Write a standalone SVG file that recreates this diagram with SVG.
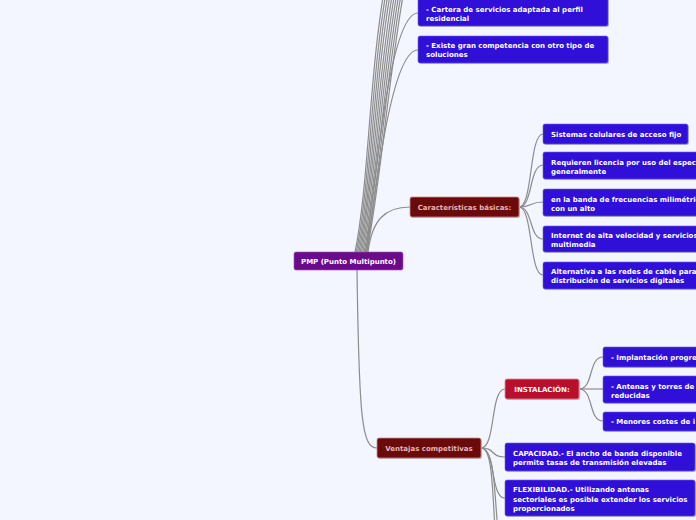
<svg xmlns="http://www.w3.org/2000/svg" width="696" height="520" viewBox="0 0 696 520">
<style>
.bg{fill:#f3f5ff}
.c{fill:none;stroke:#8c8c8c;stroke-width:1.2}
.sh{fill:#b9b9c4}
.leaf{fill:#3010d8;stroke:#6e5ee6;stroke-width:0.6}
.t{font-family:"DejaVu Sans",Verdana,sans-serif;font-weight:bold;font-size:7px;fill:#ffffff}
.tp{font-family:"DejaVu Sans",Verdana,sans-serif;font-weight:bold;font-size:7px;fill:#e6b3b3}
.root{fill:#6c0a8c;stroke:#9a50b4;stroke-width:0.6}
.dark{fill:#6b0a0a;stroke:#c98a8a;stroke-width:0.8}
.ins{fill:#b8102c;stroke:#e08a98;stroke-width:0.8}
</style>
<rect class="bg" x="0" y="0" width="696" height="520"/>
<g id="connectors">
<path class="c" d="M355 252 C369 185 369 70 386 -20"/>
<path class="c" d="M356.3 252 C370.3 185 371.2 70 388.2 -20"/>
<path class="c" d="M357.6 252 C371.6 185 373.4 70 390.4 -20"/>
<path class="c" d="M358.9 252 C372.9 185 375.6 70 392.6 -20"/>
<path class="c" d="M360.2 252 C374.2 185 377.8 70 394.8 -20"/>
<path class="c" d="M361.5 252 C375.5 185 380 70 397 -20"/>
<path class="c" d="M362.8 252 C376.8 185 382.2 70 399.2 -20"/>
<path class="c" d="M364.1 252 C378.1 185 384.4 70 401.4 -20"/>
<path class="c" d="M365.4 252 C379.4 185 386.6 70 403.6 -20"/>
<path class="c" d="M366.7 252 C380.7 185 388.8 70 405.8 -20"/>
<path class="c" d="M366 252 C378 150 392 13 418 13"/>
<path class="c" d="M367 252 C379 160 394 50 418 50"/>
<path class="c" d="M368 252 C372 220 385 207 410 207"/>
<path class="c" d="M357 269 C359 420 362 448 377 448"/>
<path class="c" d="M519 207 C533 207 529 134 543 134"/>
<path class="c" d="M519 207 C533 207 529 165 543 165"/>
<path class="c" d="M519 207 C533 207 529 202 543 202"/>
<path class="c" d="M519 207 C533 207 529 239 543 239"/>
<path class="c" d="M519 207 C533 207 529 275 543 275"/>
<path class="c" d="M481 448 C496 448 490 389 505 389"/>
<path class="c" d="M481 448 C496 448 490 457 505 457"/>
<path class="c" d="M481 448 C496 448 490 498 505 498"/>
<path class="c" d="M481 448 C494 448 492 500 496 540"/>
<path class="c" d="M481 448 C496 448 494 500 499 540"/>
<path class="c" d="M579 389 C594 389 588 357 603 357"/>
<path class="c" d="M579 389 C594 389 588 389 603 389"/>
<path class="c" d="M579 389 C594 389 588 421 603 421"/>
</g>
<g id="n-cartera">
<rect class="sh" x="419" y="-2" width="190" height="29" rx="2"/>
<rect class="leaf" x="418" y="-3" width="190" height="29" rx="2"/>
<text class="t" x="426" y="12">- Cartera de servicios adaptada al perfil</text>
<text class="t" x="426" y="21">residencial</text>
</g>
<g id="n-competencia">
<rect class="sh" x="419" y="37" width="190" height="27" rx="2"/>
<rect class="leaf" x="418" y="36" width="190" height="27" rx="2"/>
<text class="t" x="426" y="48">- Existe gran competencia con otro tipo de</text>
<text class="t" x="426" y="57">soluciones</text>
</g>
<g id="n-root">
<rect class="root" x="294" y="252" width="109" height="18" rx="2"/>
<text class="t" x="348.5" y="263.5" text-anchor="middle">PMP (Punto Multipunto)</text>
</g>
<g id="n-caracteristicas">
<rect class="sh" x="411" y="198" width="109" height="20" rx="2"/>
<rect class="dark" x="410" y="197" width="109" height="20" rx="2"/>
<text class="tp" x="464.5" y="209.5" text-anchor="middle">Características básicas:</text>
</g>
<g id="n-sistemas">
<rect class="sh" x="544" y="125" width="145" height="20" rx="2"/>
<rect class="leaf" x="543" y="124" width="145" height="20" rx="2"/>
<text class="t" x="551" y="136.5">Sistemas celulares de acceso fijo</text>
</g>
<g id="n-licencia">
<rect class="sh" x="544" y="153" width="170" height="27" rx="2"/>
<rect class="leaf" x="543" y="152" width="170" height="27" rx="2"/>
<text class="t" x="551" y="164.5">Requieren licencia por uso del espect</text>
<text class="t" x="551" y="173.5">generalmente</text>
</g>
<g id="n-banda">
<rect class="sh" x="544" y="190" width="170" height="27" rx="2"/>
<rect class="leaf" x="543" y="189" width="170" height="27" rx="2"/>
<text class="t" x="551" y="201.5">en la banda de frecuencias milimétric</text>
<text class="t" x="551" y="210.5">con un alto</text>
</g>
<g id="n-internet">
<rect class="sh" x="544" y="227" width="170" height="26" rx="2"/>
<rect class="leaf" x="543" y="226" width="170" height="26" rx="2"/>
<text class="t" x="551" y="238">Internet de alta velocidad y servicios</text>
<text class="t" x="551" y="247">multimedia</text>
</g>
<g id="n-alternativa">
<rect class="sh" x="544" y="263" width="170" height="27" rx="2"/>
<rect class="leaf" x="543" y="262" width="170" height="27" rx="2"/>
<text class="t" x="551" y="274">Alternativa a las redes de cable para</text>
<text class="t" x="551" y="283">distribución de servicios digitales</text>
</g>
<g id="n-ventajas">
<rect class="sh" x="378" y="439" width="104" height="20" rx="2"/>
<rect class="dark" x="377" y="438" width="104" height="20" rx="2"/>
<text class="tp" x="429" y="450.5" text-anchor="middle">Ventajas competitivas</text>
</g>
<g id="n-instalacion">
<rect class="sh" x="506" y="380" width="74" height="20" rx="2"/>
<rect class="ins" x="505" y="379" width="74" height="20" rx="2"/>
<text class="t" x="542" y="391.5" text-anchor="middle">INSTALACIÓN:</text>
</g>
<g id="n-implantacion">
<rect class="sh" x="604" y="348" width="110" height="20" rx="2"/>
<rect class="leaf" x="603" y="347" width="110" height="20" rx="2"/>
<text class="t" x="611" y="359.5">- Implantación progre</text>
</g>
<g id="n-antenas">
<rect class="sh" x="604" y="377" width="110" height="27" rx="2"/>
<rect class="leaf" x="603" y="376" width="110" height="27" rx="2"/>
<text class="t" x="611" y="388.5">- Antenas y torres de</text>
<text class="t" x="611" y="397.5">reducidas</text>
</g>
<g id="n-costes">
<rect class="sh" x="604" y="413" width="110" height="19" rx="2"/>
<rect class="leaf" x="603" y="412" width="110" height="19" rx="2"/>
<text class="t" x="611" y="424">- Menores costes de i</text>
</g>
<g id="n-capacidad">
<rect class="sh" x="506" y="444" width="190" height="28" rx="2"/>
<rect class="leaf" x="505" y="443" width="190" height="28" rx="2"/>
<text class="t" x="513" y="455.5">CAPACIDAD.- El ancho de banda disponible</text>
<text class="t" x="513" y="464.5">permite tasas de transmisión elevadas</text>
</g>
<g id="n-flexibilidad">
<rect class="sh" x="506" y="481" width="190" height="36" rx="2"/>
<rect class="leaf" x="505" y="480" width="190" height="36" rx="2"/>
<text class="t" x="513" y="492">FLEXIBILIDAD.- Utilizando antenas</text>
<text class="t" x="513" y="501.5">sectoriales es posible extender los servicios</text>
<text class="t" x="513" y="510.5">proporcionados</text>
</g>
</svg>
